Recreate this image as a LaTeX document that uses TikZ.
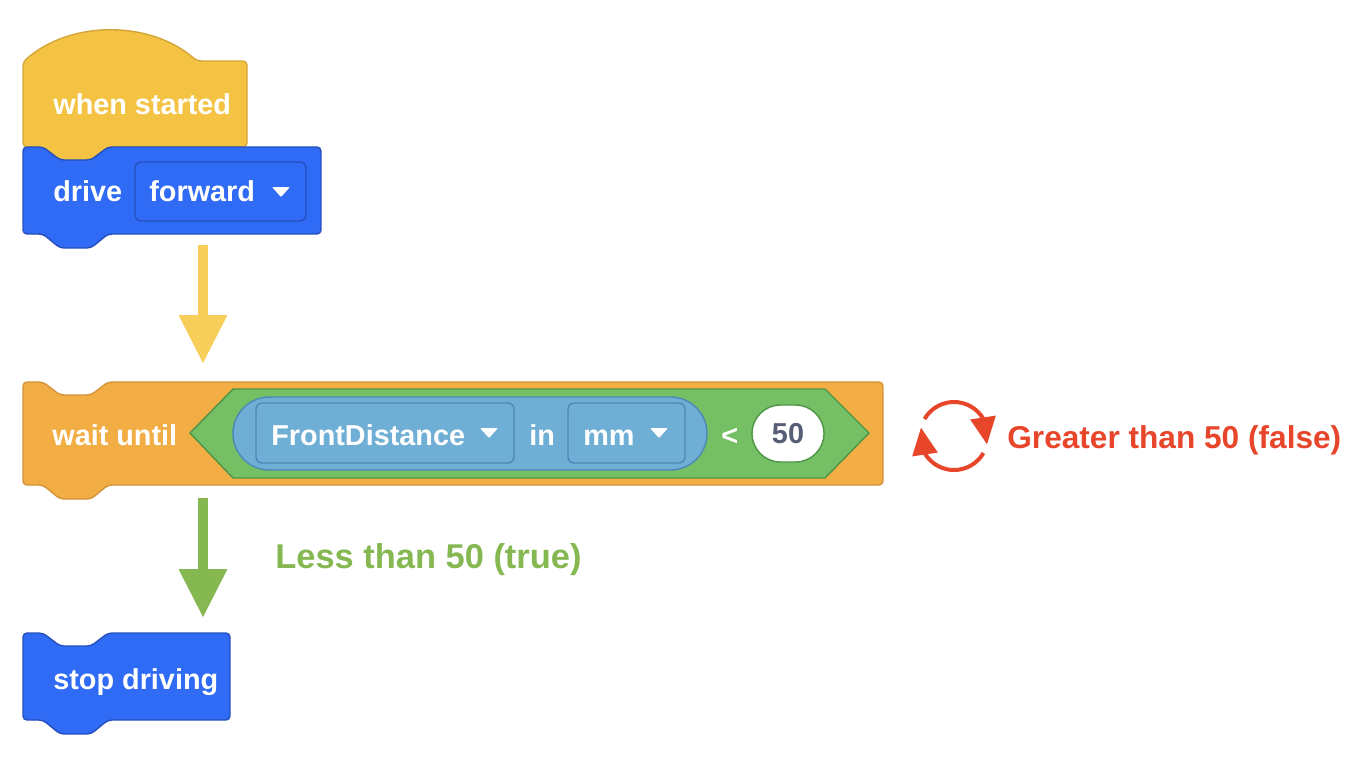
\documentclass[tikz,border=0pt]{standalone}
\usepackage{fontspec}
\setmainfont{Liberation Sans}
\usetikzlibrary{arrows.meta, bending, calc}
\definecolor{HatYellow}{HTML}{F4C344}
\definecolor{HatEdge}{HTML}{D4A53A}
\definecolor{DriveBlue}{HTML}{2F6BF4}
\definecolor{DriveEdge}{HTML}{2550BE}
\definecolor{WaitOrange}{HTML}{F2AD44}
\definecolor{WaitEdge}{HTML}{D39338}
\definecolor{HexGreen}{HTML}{75BF65}
\definecolor{HexEdge}{HTML}{4E9545}
\definecolor{PillBlue}{HTML}{6FAED5}
\definecolor{PillEdge}{HTML}{4C89B8}
\definecolor{ArrowYellow}{HTML}{F7CE5A}
\definecolor{TrueGreen}{HTML}{86B852}
\definecolor{FalseRed}{HTML}{E8462B}
\definecolor{NumGray}{HTML}{575E75}
\newcommand{\blockfont}{\fontsize{16.4}{19}\selectfont\bfseries}
\tikzset{
  hatblock/.style={draw=HatEdge, fill=HatYellow, line width=0.8pt, rounded corners=0.08cm},
  driveblock/.style={draw=DriveEdge, fill=DriveBlue, line width=0.8pt, rounded corners=0.08cm},
  waitblock/.style={draw=WaitEdge, fill=WaitOrange, line width=0.8pt, rounded corners=0.08cm},
  hexshape/.style={draw=HexEdge, fill=HexGreen, line width=0.8pt},
  pillshape/.style={draw=PillEdge, fill=PillBlue, line width=0.8pt, rounded corners=0.73cm},
  blocktext/.style={text=white, font=\blockfont, inner sep=0pt, anchor=base west},
  dropbox/.style={draw=#1, rounded corners=0.12cm, line width=0.8pt, inner sep=0pt},
  numoval/.style={draw=HexEdge, fill=white, line width=0.8pt, rounded corners=0.57cm, minimum width=1.44cm, minimum height=1.14cm, inner sep=0pt, text=NumGray, font=\blockfont},
  flowarrow/.style={-{Triangle[length=0.96cm, width=0.98cm, line width=0pt]}, line width=0.2cm, draw=#1},
  loopline/.style={-{Triangle[length=0.54cm, width=0.52cm, line width=0pt]}, line width=0.08cm, draw=FalseRed},
  caption/.style={inner sep=0pt, anchor=base west, font=\fontsize{#1}{22}\selectfont\bfseries}
}
% stack block with notch on top and tab below: style, left, top, right, bottom
\newcommand{\stackblock}[5]{%
  \draw[#1] (#2,#3+30) -- (#2,#3) -- (#2+20,#3) -- (#2+37,#3+13) -- (#2+68,#3+13) -- (#2+85,#3)
    -- (#4,#3) -- (#4,#5) -- (#2+85,#5) -- (#2+68,#5+14) -- (#2+37,#5+14) -- (#2+20,#5)
    -- (#2,#5) -- cycle;}
\newcommand{\droptri}[2]{\fill[white, rounded corners=0.02cm] (#1-9,#2-5) -- (#1+9,#2-5) -- (#1,#2+5) -- cycle;}

\begin{document}
\begin{tikzpicture}[x=0.02cm, y=-0.02cm]
\useasboundingbox (0,0) rectangle (1346,772);

\draw[hatblock] (23,100) -- (23,62) .. controls (70,20) and (150,20) .. (197,61) -- (247,61)
  -- (247,147) -- (108,147) -- (91,160) -- (60,160) -- (43,147) -- (23,147) -- cycle;
\node[blocktext] (hattext) at (53,114) {when started};

\stackblock{driveblock}{23}{147}{321}{234}
\node[dropbox=DriveEdge, minimum width=3.42cm, minimum height=1.18cm] (fwdbox) at (220.5,191.5) {};
\node[blocktext] (drivetext) at (53,201) {drive};
\node[blocktext] (fwdtext) at (149,201) {forward};
\droptri{281}{192}

\stackblock{waitblock}{23}{382}{883}{485}
\node[blocktext] (waittext) at (52,445) {wait until};
\draw[hexshape] (190,433) -- (233,389) -- (825,389) -- (869,433) -- (825,478) -- (233,478) -- cycle;
\draw[pillshape] (233,397) rectangle (707,470);
\node[dropbox=PillEdge, minimum width=5.16cm, minimum height=1.2cm] (fdbox) at (385,433) {};
\node[blocktext] (fdtext) at (271,445) {FrontDistance};
\droptri{489}{433}
\node[blocktext] (intext) at (529,445) {in};
\node[dropbox=PillEdge, minimum width=2.34cm, minimum height=1.2cm] (mmbox) at (626.5,433) {};
\node[blocktext] (mmtext) at (583,445) {mm};
\droptri{659}{433}
\node[blocktext] (lttext) at (721,445) {<};
\node[numoval] (numtext) at (788,433.5) {50};

\stackblock{driveblock}{23}{633}{230}{720}
\node[blocktext] (stoptext) at (53,689) {stop driving};

\coordinate (driveout) at (203,245);
\coordinate (waitin) at (203,363);
\coordinate (waitout) at (203,498);
\coordinate (stopin) at (203,617);
\draw[flowarrow=ArrowYellow] (driveout) -- (waitin);
\draw[flowarrow=TrueGreen] (waitout) -- (stopin);
\node[caption=19.6, text=TrueGreen] (truetext) at (275,568) {Less than 50 (true)};

\coordinate (cyc) at (954,436);
\draw[loopline] ($(cyc)+(150:0.68cm)$) arc[start angle=150, end angle=-14, radius=0.68cm];
\draw[loopline] ($(cyc)+(-30:0.68cm)$) arc[start angle=-30, end angle=-194, radius=0.68cm];
\node[caption=18, text=FalseRed] (falsetext) at (1007,448) {Greater than 50 (false)};
\end{tikzpicture}
\end{document}
